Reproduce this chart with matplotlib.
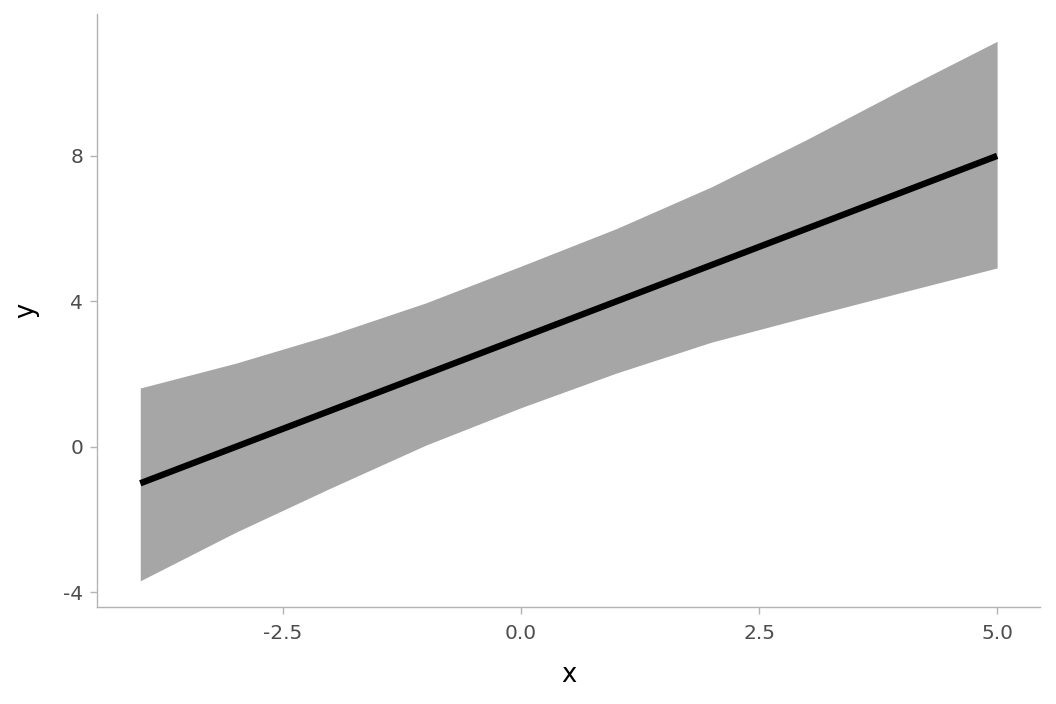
import matplotlib
matplotlib.use('Agg')
import matplotlib.pyplot as plt

# Data
x = [-4, -3, -2, -1, 0, 1, 2, 3, 4, 5]
y = [-1, 0, 1, 2, 3, 4, 5, 6, 7, 8]
upper = [1.62, 2.30, 3.08, 3.96, 4.97, 6.00, 7.15, 8.45, 9.82, 11.15]
lower = [-3.68, -2.35, -1.13, 0.05, 1.08, 2.03, 2.88, 3.57, 4.25, 4.92]

x_ticks = [-2.5, 0.0, 2.5, 5.0]
x_tick_labels = ['-2.5', '0.0', '2.5', '5.0']
y_ticks = [-4, 0, 4, 8]
y_tick_labels = ['-4', '0', '4', '8']

plt.rcParams['font.family'] = ['DejaVu Sans']

fig = plt.figure(figsize=(10.56, 7.04), dpi=100)
ax = fig.add_axes([0.0919, 0.1378, 0.8931, 0.8423])

# Ribbon and line
ax.fill_between(x, lower, upper, color='#a6a6a6', linewidth=0)
ax.plot(x, y, color='black', linewidth=4.6, solid_capstyle='butt')

# Limits
ax.set_xlim(-4.454, 5.452)
ax.set_ylim(-4.40, 11.9)

# Ticks
ax.set_xticks(x_ticks)
ax.set_xticklabels(x_tick_labels)
ax.set_yticks(y_ticks)
ax.set_yticklabels(y_tick_labels)
ax.tick_params(axis='both', length=5, width=1, color='#b3b3b3',
               labelsize=14.5, labelcolor='#4d4d4d')
ax.tick_params(axis='x', pad=7)
ax.tick_params(axis='y', pad=5)

# Visuals
for side in ['top', 'right']:
    ax.spines[side].set_visible(False)
for side in ['left', 'bottom']:
    ax.spines[side].set_color('#b3b3b3')
    ax.spines[side].set_linewidth(1)

# Labels
ax.set_xlabel('x', fontsize=18.5, labelpad=14)
ax.set_ylabel('y', fontsize=18.5, labelpad=17)

fig.savefig('out.png', dpi=100)
